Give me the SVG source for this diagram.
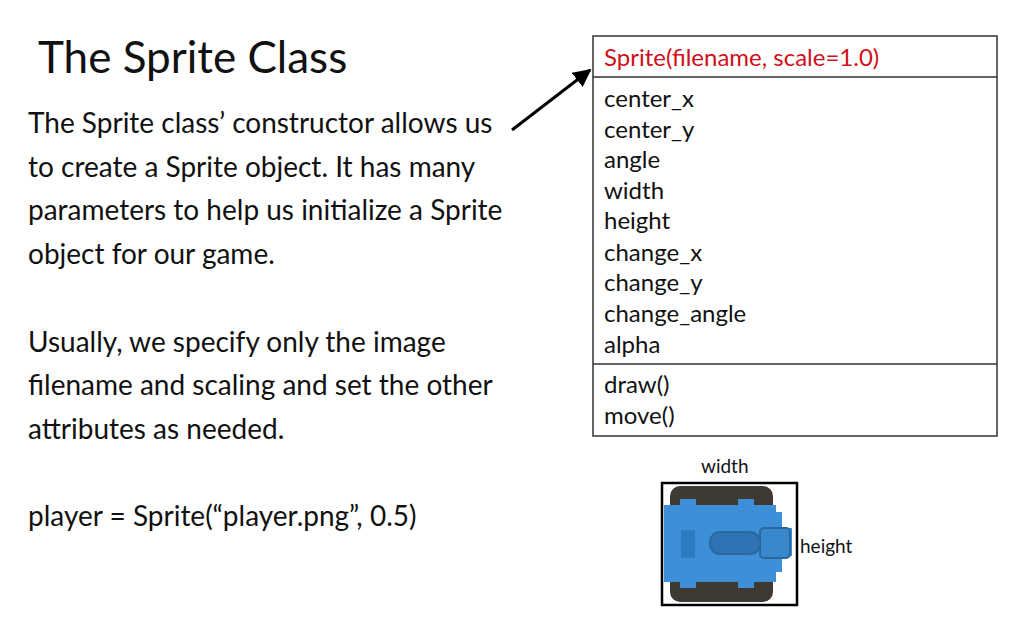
<svg xmlns="http://www.w3.org/2000/svg" width="1024" height="640" viewBox="0 0 1024 640">
<style>
text{font-family:Lato,"Liberation Sans",sans-serif;fill:#111}
.b{font-size:28px}
.a{font-size:24px}
</style>
<defs><marker id="ah" viewBox="0 0 10 10" refX="9" refY="5" markerWidth="6" markerHeight="6" orient="auto"><path d="M0,0L10,5L0,10z" fill="#000"/></marker></defs>
<rect width="1024" height="640" fill="#fff"/>
<text x="38" y="73" font-size="44">The Sprite Class</text>
<g id="desc">
<text x="28" y="133" class="b">The Sprite class’ constructor allows us</text>
<text x="28" y="177" class="b">to create a Sprite object. It has many</text>
<text x="28" y="220" class="b">parameters to help us initialize a Sprite</text>
<text x="28" y="264" class="b">object for our game.</text>
<text x="28" y="352" class="b">Usually, we specify only the image</text>
<text x="28" y="395" class="b">filename and scaling and set the other</text>
<text x="28" y="439" class="b">attributes as needed.</text>
<text x="28" y="526" class="b">player = Sprite(“player.png”, 0.5)</text>
</g>
<g id="connectors"><line x1="512" y1="130" x2="590" y2="70" stroke="#000" stroke-width="3" marker-end="url(#ah)"/></g>
<g id="classbox">
<rect x="593" y="36" width="404" height="400" fill="#fff" stroke="#333" stroke-width="1.5"/>
<line x1="593" y1="77" x2="997" y2="77" stroke="#333" stroke-width="1.5"/>
<line x1="593" y1="364" x2="997" y2="364" stroke="#333" stroke-width="1.5"/>
<text x="604" y="66" class="a" style="fill:#d0101a">Sprite(filename, scale=1.0)</text>
<text x="604" y="107" class="a">center_x</text>
<text x="604" y="138" class="a">center_y</text>
<text x="604" y="168" class="a">angle</text>
<text x="604" y="199" class="a">width</text>
<text x="604" y="229" class="a">height</text>
<text x="604" y="261" class="a">change_x</text>
<text x="604" y="291" class="a">change_y</text>
<text x="604" y="322" class="a">change_angle</text>
<text x="604" y="353" class="a">alpha</text>
<text x="604" y="393" class="a">draw()</text>
<text x="604" y="424" class="a">move()</text>
</g>
<g id="sprite">
<rect x="670" y="486" width="103" height="116" rx="10" fill="#3e3a33"/>
<path d="M664,505H680V499H696V505H738V499H754V505H776V512H782V528H792V556H782V572H776V582H754V588H738V582H696V588H680V582H664Z" fill="#3d90d8"/>
<rect x="681" y="530" width="14" height="28" fill="#2e7cc0"/>
<rect x="710" y="532" width="50" height="22" rx="10" fill="#2e74b5" stroke="#2a68a0" stroke-width="2"/>
<rect x="760" y="528" width="30" height="30" rx="4" fill="#3a88cc" stroke="#2a68a0" stroke-width="2"/>
<rect x="662" y="483" width="135" height="122" fill="none" stroke="#000" stroke-width="2.5"/>
<text x="701" y="473" font-size="19">width</text>
<text x="800" y="553" font-size="19">height</text>
</g>
</svg>
